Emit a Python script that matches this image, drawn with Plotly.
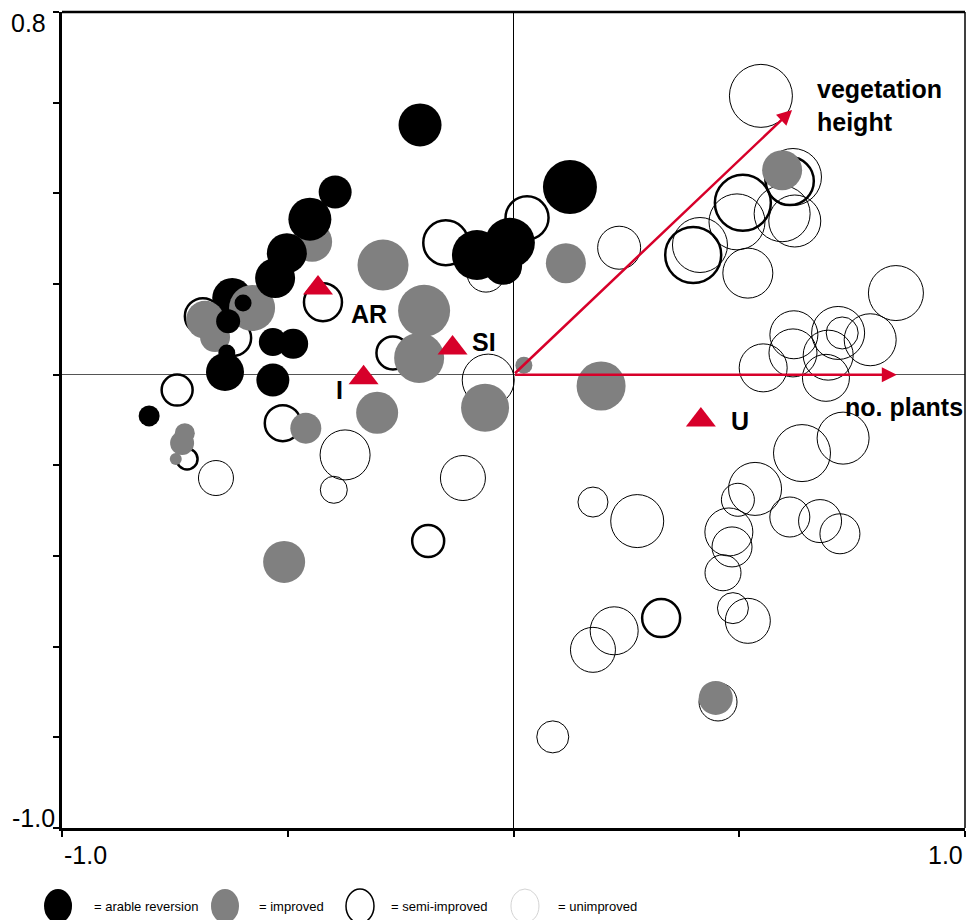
import plotly.graph_objects as go

# ---------------- data: ordination scores (axis 1, axis 2) and plot size ----------------
# arable reversion (black filled) -- first point lies beneath the improved plots
arable_under_x = [-0.623]
arable_under_y = [0.169]
arable_under_s = [40]

arable_x = [-0.207, 0.125, -0.395, -0.451, -0.502, -0.528, -0.599, -0.632, -0.635,
            -0.639, -0.533, -0.488, -0.533, -0.807, -0.081, -0.008, -0.023]
arable_y = [0.551, 0.414, 0.403, 0.343, 0.268, 0.213, 0.158, 0.118, 0.048,
            0.006, 0.072, 0.068, -0.012, -0.091, 0.264, 0.291, 0.240]
arable_s = [43, 54, 33, 43, 40, 40, 17, 24, 17, 38, 28, 30, 33, 21, 50, 50, 38]

# improved (grey filled)
improved_x = [-0.446, -0.289, -0.198, -0.209, -0.302, -0.063, 0.116, 0.023, 0.194,
              0.595, 0.448, -0.508, -0.460, -0.579, -0.683, -0.661, -0.728, -0.734, -0.748]
improved_y = [0.293, 0.242, 0.141, 0.037, -0.084, -0.073, 0.246, 0.021, -0.025,
              0.451, -0.713, -0.413, -0.118, 0.147, 0.121, 0.083, -0.129, -0.151, -0.186]
improved_s = [40, 51, 52, 50, 42, 48, 40, 17, 49, 40, 34, 42, 31, 46, 38, 30, 20, 24, 12]

# semi-improved (thick open circles)
semi_x = [-0.422, -0.150, 0.030, -0.267, -0.745, -0.511, -0.723, -0.189, 0.327,
          0.508, 0.398, 0.612, -0.688, -0.621]
semi_y = [0.160, 0.291, 0.346, 0.048, -0.034, -0.107, -0.186, -0.367, -0.537,
          0.379, 0.264, 0.427, 0.129, 0.081]
semi_s = [38, 45, 43, 33, 31, 36, 21, 32, 38, 56, 56, 48, 36, 36]

# unimproved (thin open circles)
unimp_x = [0.548, 0.413, 0.495, 0.519, 0.595, 0.623, 0.619, 0.234, 0.847, 0.621,
           0.619, 0.553, 0.719, 0.728, 0.790, 0.697, 0.692, 0.639, 0.730, 0.535,
           0.497, 0.477, 0.484, 0.464, 0.486, 0.519, 0.612, 0.679, 0.723, 0.274,
           0.176, 0.223, 0.176, 0.087, 0.453, -0.112, -0.056, -0.061, -0.373, -0.398,
           -0.659]
unimp_y = [0.615, 0.286, 0.337, 0.224, 0.355, 0.339, 0.436, 0.280, 0.180, 0.088,
           0.048, 0.015, 0.092, 0.092, 0.077, 0.043, -0.007, -0.173, -0.140, -0.252,
           -0.276, -0.347, -0.380, -0.437, -0.515, -0.543, -0.314, -0.323, -0.351, -0.323,
           -0.281, -0.565, -0.607, -0.799, -0.722, -0.228, -0.012, 0.224, -0.177, -0.254,
           -0.228]
unimp_s = [63, 55, 56, 50, 56, 52, 57, 43, 55, 48,
           48, 48, 53, 32, 52, 50, 47, 57, 52, 53,
           33, 48, 40, 36, 31, 45, 40, 43, 40, 53,
           30, 48, 45, 32, 38, 45, 52, 38, 50, 27,
           35]

# habitat centroids
centroid_labels = ["AR", "SI", "I", "U"]
centroid_x = [-0.433, -0.135, -0.332, 0.415]
centroid_y = [0.191, 0.059, -0.007, -0.100]
centroid_label_x = [-0.320, -0.065, -0.385, 0.502]
centroid_label_y = [0.134, 0.072, -0.034, -0.102]

# environmental vectors
vector_labels = ["vegetation<br>height", "no. plants"]
vector_x = [0.617, 0.849]
vector_y = [0.584, 0.0]
vector_label_x = [0.668, 0.730]
vector_label_y = [0.594, -0.071]

x_ticks = [-1.0, -0.5, 0.0, 0.5, 1.0]
y_ticks = [-1.0, -0.8, -0.6, -0.4, -0.2, 0.0, 0.2, 0.4, 0.6, 0.8]

legend_labels = ["= arable reversion", "= improved", "= semi-improved", "= unimproved"]

# ---------------- styling ----------------
RED = "#d7002a"
GREY = "#808080"
FONT = "Liberation Sans, Arial, Helvetica, sans-serif"


def circles(x, y, s, fill, line_color, line_width):
    return go.Scatter(
        x=x, y=y, mode="markers",
        marker=dict(size=s, color=fill, opacity=1,
                    line=dict(color=line_color, width=line_width)),
        hoverinfo="skip", showlegend=False,
    )


fig = go.Figure()
fig.add_trace(circles(unimp_x, unimp_y, unimp_s, "rgba(0,0,0,0)", "black", 1))
fig.add_trace(circles(semi_x, semi_y, semi_s, "rgba(0,0,0,0)", "black", 2.5))
fig.add_trace(circles(arable_under_x, arable_under_y, arable_under_s, "black", "black", 0))
fig.add_trace(circles(improved_x, improved_y, improved_s, GREY, GREY, 0))
fig.add_trace(circles(arable_x, arable_y, arable_s, "black", "black", 0))
fig.add_trace(go.Scatter(
    x=centroid_x, y=centroid_y, mode="markers",
    marker=dict(symbol="triangle-up", size=26, color=RED, opacity=1, line=dict(width=0)),
    hoverinfo="skip", showlegend=False,
))

annotations = []
# vectors
for vx, vy in zip(vector_x, vector_y):
    annotations.append(dict(
        x=vx, y=vy, ax=0, ay=0, xref="x", yref="y", axref="x", ayref="y",
        text="", showarrow=True, arrowhead=2, arrowsize=1.2, arrowwidth=2.5,
        arrowcolor=RED, standoff=0, startstandoff=0,
    ))
for txt, lx, ly in zip(vector_labels, vector_label_x, vector_label_y):
    annotations.append(dict(
        x=lx, y=ly, xref="x", yref="y", text="<b>" + txt + "</b>", showarrow=False,
        xanchor="left", yanchor="middle", align="left",
        font=dict(family=FONT, size=25, color="black"),
    ))
for txt, lx, ly in zip(centroid_labels, centroid_label_x, centroid_label_y):
    annotations.append(dict(
        x=lx, y=ly, xref="x", yref="y", text="<b>" + txt + "</b>", showarrow=False,
        xanchor="center", yanchor="middle",
        font=dict(family=FONT, size=25, color="black"),
    ))

# tick labels (only the extremes are labelled)
tick_font = dict(family=FONT, size=25, color="black")
annotations += [
    dict(x=x_ticks[0], y=-0.033, xref="x", yref="paper", text="-1.0", showarrow=False,
         xanchor="left", yanchor="middle", font=tick_font),
    dict(x=x_ticks[-1], y=-0.033, xref="x", yref="paper", text="1.0", showarrow=False,
         xanchor="right", yanchor="middle", font=tick_font),
    dict(x=-0.015, y=y_ticks[-1], xref="paper", yref="y", text="0.8", showarrow=False,
         xanchor="right", yanchor="middle", yshift=-11, font=tick_font),
    dict(x=-0.006, y=y_ticks[0], xref="paper", yref="y", text="-1.0", showarrow=False,
         xanchor="right", yanchor="middle", yshift=10, font=tick_font),
]

# custom legend
shapes = []
leg_cx = [-0.0044, 0.1805, 0.330, 0.5127]
leg_tx = [0.0332, 0.216, 0.362, 0.547]
leg_fill = ["black", GREY, "rgba(0,0,0,0)", "rgba(0,0,0,0)"]
leg_line = ["black", GREY, "black", "#c8c8c8"]
leg_lw = [0, 0, 1.5, 0.8]
leg_y = -0.0956
for cx, tx, fc, lc, lw, lab in zip(leg_cx, leg_tx, leg_fill, leg_line, leg_lw, legend_labels):
    shapes.append(dict(
        type="circle", xref="paper", yref="paper", xsizemode="pixel", ysizemode="pixel",
        xanchor=cx, yanchor=leg_y, x0=-14, x1=14, y0=-17, y1=17,
        fillcolor=fc, line=dict(color=lc, width=lw),
    ))
    annotations.append(dict(
        x=tx, y=leg_y, xref="paper", yref="paper", text=lab, showarrow=False,
        xanchor="left", yanchor="middle",
        font=dict(family=FONT, size=13, color="black"),
    ))

# top and right frame lines
shapes.append(dict(type="line", xref="paper", yref="paper", x0=0, x1=1, y0=1, y1=1,
                   line=dict(color="black", width=2.5)))
shapes.append(dict(type="line", xref="paper", yref="paper", x0=1, x1=1, y0=0, y1=1,
                   line=dict(color="black", width=1.5)))

axis_common = dict(
    showgrid=False, zeroline=True, zerolinewidth=1,
    showline=True, linecolor="black", linewidth=3,
    ticks="outside", ticklen=6, tickwidth=2, tickcolor="black",
    showticklabels=False, fixedrange=True,
)

fig.update_layout(
    width=967, height=920,
    margin=dict(l=62, r=2, t=12, b=92),
    paper_bgcolor="white", plot_bgcolor="white",
    xaxis=dict(range=[-1, 1], tickvals=x_ticks, zerolinecolor="black", **axis_common),
    yaxis=dict(range=[-1, 0.8], tickvals=y_ticks, zerolinecolor="#555555", **axis_common),
    annotations=annotations, shapes=shapes,
    showlegend=False,
)

fig.write_html("out.html")
